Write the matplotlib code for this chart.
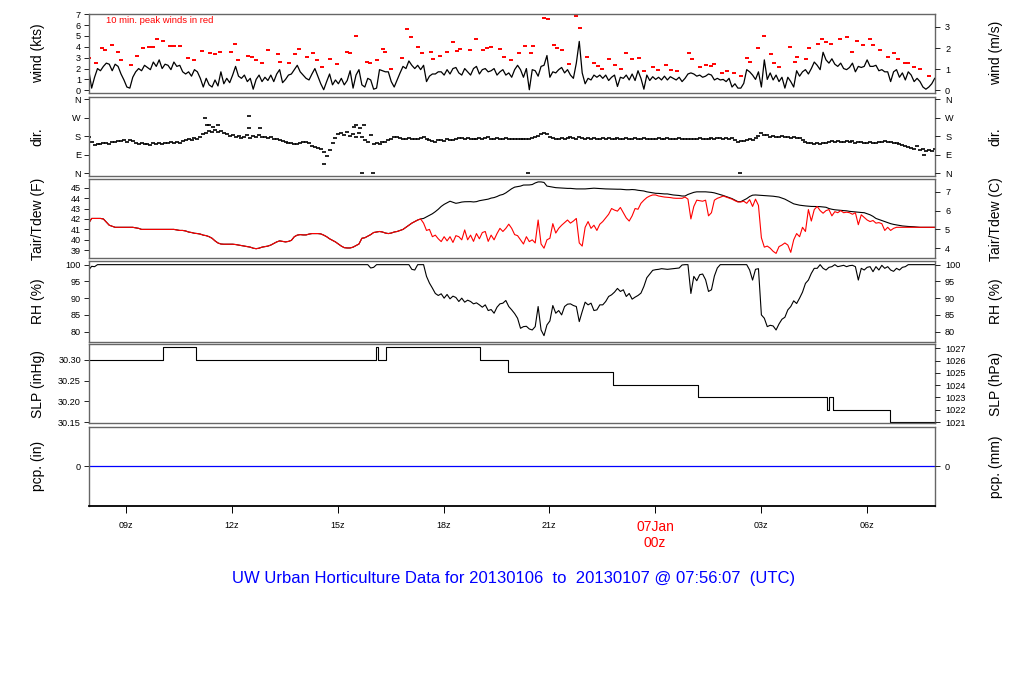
import matplotlib
matplotlib.use("Agg")
import matplotlib.pyplot as plt
import numpy as np
import pandas as pd

plt.rcParams['font.family'] = ['Liberation Sans', 'DejaVu Sans']

# ---- data (5-min samples, 07:56 06Jan -> 07:56 07Jan UTC)
start = "2013-01-06 07:56"
end = "2013-01-07 07:56"

wind_kts = [
    1.9, 0.2, 1.2, 2.0, 1.8, 2.2, 2.5, 2.4, 1.8, 2.4, 2.2, 1.5,
    0.95, 0.3, 0.2, 1.2, 1.7, 2.0, 1.8, 2.3, 2.1, 1.9, 2.6, 2.2,
    2.8, 2.0, 2.4, 2.3, 1.9, 2.6, 2.2, 2.3, 1.7, 1.5, 1.7, 1.3,
    1.9, 1.7, 1.1, 0.3, 1.1, 0.5, 0.3, 0.95, 0.4, 1.7, 0.6, 1.1,
    0.7, 1.4, 2.2, 1.3, 1.1, 1.4, 0.8, 1.1, 0.1, 1.0, 1.4, 0.8,
    1.2, 0.9, 1.4, 0.8, 1.5, 1.9, 0.7, 1.0, 1.4, 1.5, 1.9, 2.3,
    1.7, 1.4, 1.1, 0.95, 1.5, 2.0, 1.3, 0.6, 0.05, 0.8, 1.5, 0.5,
    0.95, 0.6, 1.1, 0.5, 0.9, 1.8, 0.2, 1.4, 1.9, 0.5, 0.3, 1.1,
    0.95, 0.1, 0.2, 1.9, 1.8, 1.7, 1.7, 0.8, 0.3, 0.95, 1.6, 2.2,
    2.0, 2.7, 2.3, 2.0, 2.3, 1.9, 2.3, 0.8, 1.3, 1.5, 1.5, 1.7,
    1.7, 1.4, 1.9, 1.5, 2.0, 2.1, 1.6, 1.4, 2.0, 1.7, 1.4, 2.0,
    2.2, 1.5, 1.9, 2.0, 1.7, 1.8, 2.0, 1.4, 1.7, 1.9, 1.4, 1.6,
    1.2, 1.9, 2.3, 1.9, 1.2, 2.0, 0.05, 1.9, 1.8, 1.3, 2.2, 2.3,
    3.2, 1.2, 1.7, 1.6, 1.9, 2.1, 1.6, 1.9, 1.4, 1.1, 2.5, 4.5,
    1.6, 0.6, 1.1, 0.95, 1.4, 1.2, 1.4, 1.1, 1.4, 0.9, 1.2, 1.4,
    0.35, 1.2, 1.1, 1.4, 0.95, 1.5, 0.9, 1.8, 1.1, 0.1, 1.4, 0.9,
    1.25, 1.0, 1.2, 0.95, 1.3, 0.95, 1.25, 1.1, 0.95, 1.2, 0.8, 1.1,
    1.5, 1.6, 1.5, 1.3, 1.4, 1.2, 1.3, 1.5, 1.4, 0.95, 1.1, 0.95,
    1.0, 0.8, 1.1, 0.3, 0.6, 0.2, 0.2, 0.64, 1.9, 1.7, 1.4, 1.0,
    1.7, 0.3, 2.8, 1.0, 1.6, 0.95, 1.4, 0.8, 1.2, 0.2, 1.2, 0.8,
    0.3, 1.8, 1.3, 1.7, 1.9, 1.5, 2.0, 2.6, 2.3, 1.9, 3.5, 2.8,
    2.5, 2.9, 2.4, 2.2, 2.5, 2.0, 1.9, 2.1, 2.5, 1.7, 2.2, 2.1,
    2.2, 2.8, 2.2, 2.2, 2.3, 1.8, 1.9, 1.7, 1.7, 0.8, 1.7, 1.9,
    1.2, 1.6, 0.95, 1.7, 1.4, 0.8, 1.1, 0.8, 0.3, 0.1, 0.3, 0.6,
    1.1,
]

# 10 min peak winds (hours since 06Jan 00z, kts)
peak_hr = [
    7.95, 8.15, 8.30, 8.40, 8.60, 8.76, 8.85, 9.12, 9.30, 9.48,
    9.63, 9.76, 9.88, 10.03, 10.25, 10.35, 10.51, 10.75, 10.92, 11.15,
    11.38, 11.52, 11.66, 11.96, 12.07, 12.16, 12.46, 12.58, 12.69, 12.85,
    13.02, 13.30, 13.37, 13.61, 13.79, 13.91, 14.12, 14.30, 14.40, 14.56,
    14.79, 14.98, 15.27, 15.35, 15.52, 15.84, 15.92, 16.12, 16.28, 16.35,
    16.52, 16.83, 16.96, 17.09, 17.28, 17.40, 17.63, 17.71, 17.91, 18.11,
    18.28, 18.38, 18.48, 18.75, 18.93, 19.13, 19.24, 19.35, 19.61, 19.72,
    19.91, 20.15, 20.30, 20.47, 20.54, 20.85, 20.95, 21.14, 21.23, 21.35,
    21.56, 21.77, 21.88, 22.08, 22.28, 22.38, 22.50, 22.70, 22.85, 23.02,
    23.19, 23.36, 23.55, 23.69, 23.95, 24.07, 24.32, 24.46, 24.63, 24.96,
    25.04, 25.28, 25.45, 25.59, 25.68, 25.91, 26.03, 26.23, 26.43, 26.60,
    26.69, 26.92, 27.10, 27.29, 27.38, 27.52, 27.83, 27.97, 28.03, 28.29,
    28.37, 28.61, 28.75, 28.85, 28.99, 29.26, 29.44, 29.58, 29.72, 29.90,
    30.11, 30.17, 30.37, 30.62, 30.77, 30.88, 31.09, 31.17, 31.34, 31.51,
    31.77,
]
peak_kts = [
    3.0, 2.5, 3.85, 3.7, 4.15, 3.5, 2.75, 2.3, 3.2, 3.85,
    3.95, 4.0, 4.7, 4.5, 4.1, 4.05, 4.05, 2.95, 2.75, 3.65,
    3.4, 3.3, 3.5, 3.5, 4.3, 2.8, 3.2, 3.05, 2.75, 2.5,
    3.7, 3.3, 2.6, 2.5, 3.3, 3.8, 3.05, 3.4, 2.75, 2.1,
    2.85, 2.45, 3.5, 3.45, 5.0, 2.6, 2.5, 2.75, 3.8, 3.5,
    2.0, 3.0, 5.6, 4.9, 3.95, 3.45, 3.5, 2.85, 3.2, 3.55,
    4.4, 3.6, 3.8, 3.7, 4.7, 3.7, 3.9, 4.0, 3.8, 3.05,
    2.75, 3.45, 4.05, 3.45, 4.05, 6.7, 6.6, 4.15, 3.85, 3.7,
    2.4, 6.85, 5.7, 3.05, 2.5, 2.25, 2.0, 2.85, 2.3, 2.0,
    3.45, 2.85, 2.95, 1.75, 2.1, 1.85, 2.3, 1.85, 1.75, 3.45,
    2.85, 2.1, 2.3, 2.2, 2.4, 1.6, 1.75, 1.6, 1.3, 2.95,
    2.6, 3.85, 5.0, 3.3, 2.5, 2.1, 3.95, 2.65, 3.05, 2.85,
    3.85, 4.3, 4.75, 4.45, 4.3, 4.7, 4.9, 3.5, 4.5, 4.15,
    4.7, 4.15, 3.7, 3.05, 3.45, 2.85, 2.5, 2.5, 2.1, 2.0,
    1.3,
]

wdir = [
    175, 150, 138, 140, 143, 146, 148, 143, 150, 152, 155, 158,
    160, 150, 162, 156, 146, 142, 148, 140, 144, 138, 145, 142,
    146, 140, 148, 145, 150, 146, 151, 148, 155, 160, 165, 162,
    170, 166, 175, 190, 196, 205, 200, 212, 198, 206, 195, 190,
    180, 185, 175, 182, 170, 178, 185, 172, 180, 175, 185, 178,
    176, 170, 174, 165, 168, 160, 158, 152, 148, 146, 143, 140,
    148, 150, 152, 145, 133, 127, 122, 117, 105, 84, 115, 146,
    170, 190, 195, 185, 200, 180, 190, 175, 195, 178, 160, 150,
    185, 140, 146, 143, 150, 154, 160, 165, 175, 178, 172, 168,
    165, 170, 168, 164, 168, 172, 178, 165, 160, 157, 154, 160,
    162, 158, 165, 162, 160, 168, 170, 172, 168, 172, 165, 168,
    165, 170, 168, 172, 175, 168, 165, 170, 168, 166, 170, 168,
    166, 168, 165, 168, 167, 165, 168, 170, 175, 182, 190, 195,
    192, 178, 170, 165, 168, 172, 165, 170, 175, 172, 168, 178,
    172, 165, 170, 168, 172, 165, 168, 170, 164, 170, 166, 168,
    170, 165, 168, 172, 166, 164, 170, 167, 165, 170, 168, 166,
    168, 165, 170, 167, 168, 172, 166, 168, 165, 170, 167, 168,
    166, 168, 165, 167, 170, 166, 168, 165, 170, 168, 172, 170,
    168, 172, 165, 170, 160, 150, 155, 158, 160, 165, 162, 170,
    180, 195, 188, 185, 178, 180, 175, 178, 182, 176, 175, 172,
    175, 170, 172, 160, 150, 146, 145, 143, 146, 144, 145, 148,
    150, 155, 152, 156, 154, 150, 157, 152, 155, 148, 150, 152,
    148, 146, 150, 145, 148, 150, 152, 155, 153, 150, 148, 145,
    140, 135, 130, 128, 125, 120, 130, 115, 118, 110, 112, 108,
    120,
]
# stray direction readings
dir_out_hr = [11.23, 11.28, 11.36, 11.47, 11.59, 12.47, 12.49, 12.78, 14.62,
              15.45, 15.53, 15.62, 15.73, 15.69, 16.00, 20.40, 26.41, 31.62]
dir_out = [269, 234, 234, 227, 234, 279, 219, 222, 44,
           227, 234, 219, 234, 0, 0, 0, 0, 89]

tair_f = [
    41.6, 42.05, 42.05, 42.05, 42.05, 42.0, 41.7, 41.4, 41.3, 41.2, 41.2, 41.2,
    41.2, 41.2, 41.2, 41.2, 41.15, 41.1, 41.0, 41.0, 41.0, 41.0, 41.0, 41.0,
    41.0, 41.0, 41.0, 41.0, 41.0, 41.0, 40.95, 40.9, 40.9, 40.85, 40.75, 40.7,
    40.63, 40.6, 40.55, 40.45, 40.4, 40.3, 40.15, 39.9, 39.7, 39.6, 39.58, 39.58,
    39.58, 39.58, 39.55, 39.5, 39.45, 39.4, 39.35, 39.3, 39.2, 39.15, 39.2, 39.3,
    39.35, 39.4, 39.5, 39.65, 39.8, 39.9, 39.85, 39.8, 39.85, 39.95, 40.3, 40.45,
    40.5, 40.47, 40.47, 40.55, 40.6, 40.6, 40.6, 40.57, 40.45, 40.3, 40.1, 39.95,
    39.8, 39.6, 39.4, 39.25, 39.22, 39.22, 39.3, 39.45, 39.6, 40.15, 40.2, 40.35,
    40.5, 40.7, 40.75, 40.8, 40.75, 40.65, 40.6, 40.65, 40.75, 40.8, 40.9, 41.0,
    41.2, 41.4, 41.6, 41.75, 41.9, 42.0, 42.05, 42.2, 42.35, 42.5, 42.7, 42.93,
    43.2, 43.4, 43.55, 43.7, 43.6, 43.5, 43.55, 43.62, 43.65, 43.66, 43.66, 43.63,
    43.66, 43.75, 43.8, 43.85, 43.9, 44.0, 44.05, 44.15, 44.28, 44.35, 44.5, 44.7,
    44.9, 45.05, 45.1, 45.15, 45.25, 45.26, 45.26, 45.3, 45.45, 45.55, 45.55, 45.5,
    45.15, 45.1, 45.05, 45.0, 44.98, 44.95, 44.95, 44.93, 44.93, 44.9, 44.88, 44.88,
    44.88, 44.88, 44.9, 44.93, 44.95, 44.93, 44.9, 44.88, 44.88, 44.87, 44.86, 44.85,
    44.85, 44.85, 44.82, 44.8, 44.8, 44.82, 44.8, 44.75, 44.72, 44.68, 44.6, 44.55,
    44.5, 44.46, 44.45, 44.42, 44.4, 44.4, 44.35, 44.3, 44.28, 44.25, 44.2, 44.2,
    44.35, 44.45, 44.55, 44.6, 44.6, 44.6, 44.6, 44.58, 44.55, 44.5, 44.42, 44.35,
    44.25, 44.15, 44.05, 43.95, 43.8, 43.66, 43.66, 43.8, 43.95, 44.15, 44.28, 44.3,
    44.28, 44.27, 44.24, 44.22, 44.2, 44.18, 44.14, 44.1, 44.0, 43.9, 43.75, 43.6,
    43.45, 43.38, 43.32, 43.28, 43.25, 43.22, 43.2, 43.2, 43.19, 43.18, 43.15, 43.12,
    43.0, 42.93, 42.88, 42.85, 42.82, 42.8, 42.78, 42.73, 42.7, 42.68, 42.64, 42.62,
    42.6, 42.5, 42.4, 42.25, 42.05, 41.95, 41.85, 41.75, 41.65, 41.55, 41.48, 41.43,
    41.38, 41.33, 41.3, 41.28, 41.27, 41.25, 41.22, 41.2, 41.2, 41.2, 41.2, 41.2,
    41.2,
]
# dew point sits on the air temperature trace until ~17:25z
tdew_f = tair_f[:114] + [
    41.6, 40.9, 41.0, 40.3, 40.45, 40.1,
    39.83, 40.3, 39.9, 40.3, 39.75, 40.4, 40.3, 40.0, 40.95, 40.0, 40.45, 39.85,
    40.6, 40.1, 40.7, 40.8, 39.85, 40.45, 40.0, 40.6, 41.1, 40.8, 41.1, 41.5,
    41.1, 40.5, 40.4, 40.0, 39.6, 40.3, 39.83, 40.0, 39.7, 41.9, 39.6, 39.2,
    40.0, 40.15, 41.55, 40.65, 41.1, 41.4, 41.65, 41.9, 41.6, 41.8, 42.05, 39.7,
    39.4, 41.2, 41.75, 41.1, 41.4, 40.9, 41.5, 41.75, 42.1, 42.45, 43.0, 42.85,
    42.75, 43.1, 42.6, 42.1, 41.8, 42.3, 43.0, 42.93, 43.5, 43.8, 44.05, 44.2,
    44.3, 44.3, 44.2, 44.15, 44.1, 44.08, 44.05, 44.0, 43.98, 43.98, 43.98, 44.1,
    43.9, 42.0, 43.2, 43.8, 43.75, 43.7, 43.8, 42.3, 42.6, 43.8, 43.98, 44.08,
    44.2, 44.1, 44.0, 43.9, 43.75, 43.63, 43.63, 43.7, 43.5, 43.85, 43.2, 43.9,
    43.3, 40.2, 39.3, 39.4, 39.2, 38.9, 38.7, 39.35, 39.5, 39.7, 39.5, 38.8,
    40.0, 40.6, 40.3, 41.2, 40.8, 42.9, 41.8, 42.9, 43.2, 42.8, 42.55, 42.8,
    42.9, 42.3, 42.7, 42.6, 42.8, 42.6, 42.65, 42.6, 42.45, 42.6, 41.45, 42.4,
    42.15, 41.9, 41.75, 41.85, 41.6, 41.65, 41.55, 40.9, 41.2, 40.9, 41.1, 41.2,
    41.2, 41.2, 41.2, 41.2, 41.2, 41.2, 41.2, 41.2, 41.2, 41.2, 41.2, 41.2,
    41.2,
]

rh = [
    98.4, 99.5, 99.4, 100, 100, 100, 100, 100, 100, 100, 100, 100,
    100, 100, 100, 100, 100, 100, 100, 100, 100, 100, 100, 100,
    100, 100, 100, 100, 100, 100, 100, 100, 100, 100, 100, 100,
    100, 100, 100, 100, 100, 100, 100, 100, 100, 100, 100, 100,
    100, 100, 100, 100, 100, 100, 100, 100, 100, 100, 100, 100,
    100, 100, 100, 100, 100, 100, 100, 100, 100, 100, 100, 100,
    100, 100, 100, 100, 100, 100, 100, 100, 100, 100, 100, 100,
    100, 100, 100, 100, 100, 100, 100, 100, 100, 100, 100, 100,
    99.0, 99.2, 100, 100, 100, 100, 100, 100, 100, 100, 100, 100,
    100, 100, 98.6, 98.4, 100, 100, 100, 96.5, 94.5, 93.0, 91.4, 90.8,
    91.3, 90.0, 91.1, 89.8, 90.6, 90.2, 89.0, 90.0, 88.8, 89.4, 89.0, 88.3,
    88.6, 88.0, 87.3, 88.0, 86.3, 86.6, 85.5, 87.3, 88.3, 88.5, 89.3, 87.5,
    86.5, 85.4, 84.0, 81.0, 81.5, 81.6, 80.8, 80.5, 81.5, 87.5, 80.5, 78.8,
    82.0, 83.2, 87.8, 85.5, 86.3, 85.0, 87.5, 88.2, 88.3, 87.8, 87.5, 83.0,
    86.0, 88.8, 88.0, 88.5, 86.3, 86.5, 88.0, 88.0, 89.0, 90.5, 91.0, 91.8,
    92.9, 92.0, 92.5, 90.5, 91.4, 89.7, 90.3, 90.8, 91.5, 93.5, 96.1, 97.2,
    98.3, 98.5, 98.6, 98.8, 98.7, 98.6, 98.7, 98.8, 98.9, 99.0, 99.9, 100,
    100, 91.4, 96.5, 95.2, 97.0, 97.2, 95.5, 92.0, 92.5, 96.6, 99.0, 100,
    100, 100, 100, 100, 100, 100, 100, 100, 100, 98.4, 95.4, 98.6,
    98.8, 85.0, 84.0, 81.5, 81.9, 81.7, 80.5, 82.3, 83.7, 84.3, 86.5, 87.5,
    89.2, 88.4, 90.0, 91.8, 94.4, 95.4, 97.4, 98.9, 98.9, 100, 98.9, 98.4,
    99.2, 99.4, 100, 99.4, 99.6, 99.8, 99.4, 99.7, 99.8, 99.4, 95.4, 98.9,
    98.4, 99.2, 99.4, 97.9, 99.4, 98.4, 99.8, 98.9, 99.4, 98.4, 98.0, 98.9,
    98.4, 99.2, 99.4, 100, 100, 100, 100, 100, 100, 100, 100, 100,
    100,
]

# sea level pressure: change times (hours since 06Jan 00z) and levels (inHg)
slp_hr = [7.933, 10.03, 10.98, 16.085, 16.142, 16.369, 19.048, 19.835,
          22.818, 25.22, 28.878, 28.935, 29.057, 30.676, 31.933]
slp_in = [30.30, 30.33, 30.30, 30.33, 30.30, 30.33, 30.30, 30.27,
          30.24, 30.21, 30.18, 30.21, 30.18, 30.15, 30.15]

pcp_in = [0.0, 0.0]

hour_ticks = [9, 12, 15, 18, 21, 24, 27, 30]
hour_labels = ['09z', '12z', '15z', '18z', '21z', '', '03z', '06z']

# ---- time axis in hours since 06Jan 00z
day0 = pd.Timestamp("2013-01-06")
t5 = pd.date_range(start, end, freq="5min")
hrs = ((t5 - day0) / pd.Timedelta(hours=1)).to_numpy()
t0 = (pd.Timestamp(start) - day0) / pd.Timedelta(hours=1)
t1 = (pd.Timestamp(end) - day0) / pd.Timedelta(hours=1)

fig = plt.figure(figsize=(10.24, 7.0), dpi=100)

L, W = 88.7 / 1024, 846 / 1024
boxes = [(13.5, 93.0), (96.7, 175.7), (179.0, 258.3),
         (261.3, 341.7), (344.0, 423.3), (426.7, 506.0)]
axes = [fig.add_axes([L, 1 - b / 700, W, (b - t) / 700]) for t, b in boxes]

TS = 6.6
LABS = 10


def style(ax, lab_l, lab_r, ylim, conv, lt, ltl, rt, rtl):
    ax.set_xlim(t0, t1)
    ax.set_ylim(*ylim)
    for s in ax.spines.values():
        s.set_color('0.4')
        s.set_linewidth(1.0)
    ax.set_xticks([])
    ax.set_yticks(lt)
    ax.set_yticklabels(ltl)
    ax.tick_params(axis='y', direction='out', length=3.5, width=0.6,
                   labelsize=TS, pad=2)
    ax.set_ylabel(lab_l, fontsize=LABS)
    ax.yaxis.set_label_coords(-0.052, 0.5)
    r = ax.twinx()
    r.set_ylim(conv(ylim[0]), conv(ylim[1]))
    r.set_yticks(rt)
    r.set_yticklabels(rtl)
    r.tick_params(axis='y', direction='out', length=3.5, width=0.6,
                  labelsize=TS, pad=4)
    r.set_ylabel(lab_r, fontsize=LABS, rotation=90)
    r.yaxis.set_label_coords(1.064, 0.5)
    for s in r.spines.values():
        s.set_visible(False)
    r.set_xticks([])
    return r


# wind
ax = axes[0]
ax.plot(hrs, wind_kts, color='black', lw=0.9)
ax.plot(peak_hr, peak_kts, ls='none', marker='_', ms=2.2, mew=1.4, color='red')
ax.text(0.021, 0.915, '10 min. peak winds in red', transform=ax.transAxes,
        color='red', fontsize=6.8, va='center')
style(ax, 'wind (kts)', 'wind (m/s)', (-0.25, 7.07), lambda v: v / 1.944,
      range(0, 8), [str(i) for i in range(8)], [0, 1, 2, 3], ['0', '1', '2', '3'])

# direction
ax = axes[1]
ax.plot(hrs, wdir, ls='none', marker='_', ms=2.4, mew=1.2, color='black')
ax.plot(dir_out_hr, dir_out, ls='none', marker='_', ms=2.4, mew=1.2, color='black')
dticks = [0, 90, 180, 270, 360]
dlabs = ['N', 'E', 'S', 'W', 'N']
style(ax, 'dir.', 'dir.', (-12, 372), lambda v: v, dticks, dlabs, dticks, dlabs)

# temperature / dew point
ax = axes[2]
ax.plot(hrs, tair_f, color='black', lw=0.8)
ax.plot(hrs, tdew_f, color='red', lw=0.8)
style(ax, 'Tair/Tdew (F)', 'Tair/Tdew (C)', (38.23, 45.83),
      lambda v: (v - 32) / 1.8, range(39, 46), [str(i) for i in range(39, 46)],
      [4, 5, 6, 7], ['4', '5', '6', '7'])

# relative humidity
ax = axes[3]
ax.plot(hrs, rh, color='black', lw=0.8)
rht = [80, 85, 90, 95, 100]
style(ax, 'RH (%)', 'RH (%)', (77.0, 101.0), lambda v: v,
      rht, [str(v) for v in rht], rht, [str(v) for v in rht])

# pressure
ax = axes[4]
ax.step(slp_hr, slp_in, where='post', color='black', lw=0.8)
st = [30.15, 30.20, 30.25, 30.30]
ht = [1021, 1022, 1023, 1024, 1025, 1026, 1027]
style(ax, 'SLP (inHg)', 'SLP (hPa)', (30.147, 30.338), lambda v: v * 33.8639,
      st, ['%.2f' % v for v in st], ht, [str(v) for v in ht])

# precipitation
ax = axes[5]
ax.plot([t0, t1], pcp_in, color='blue', lw=0.9)
style(ax, 'pcp. (in)', 'pcp. (mm)', (-1, 1), lambda v: v * 25.4,
      [0], ['0'], [0], ['0'])
ax.spines['bottom'].set_color('black')
ax.spines['bottom'].set_linewidth(1.3)
ax.set_xticks(hour_ticks)
ax.set_xticklabels(hour_labels)
ax.tick_params(axis='x', direction='out', length=5, width=0.7,
               labelsize=6.5, pad=6)
ax.annotate('07Jan\n00z', xy=(24, -0.18), xycoords=('data', 'axes fraction'),
            ha='center', va='top', color='red', fontsize=10, linespacing=1.15)

fig.text(0.5015, 1 - 579 / 700,
         'UW Urban Horticulture Data for 20130106  to  20130107 @ 07:56:07  (UTC)',
         ha='center', va='center', color='blue', fontsize=12)

fig.savefig('out.png', dpi=100)
